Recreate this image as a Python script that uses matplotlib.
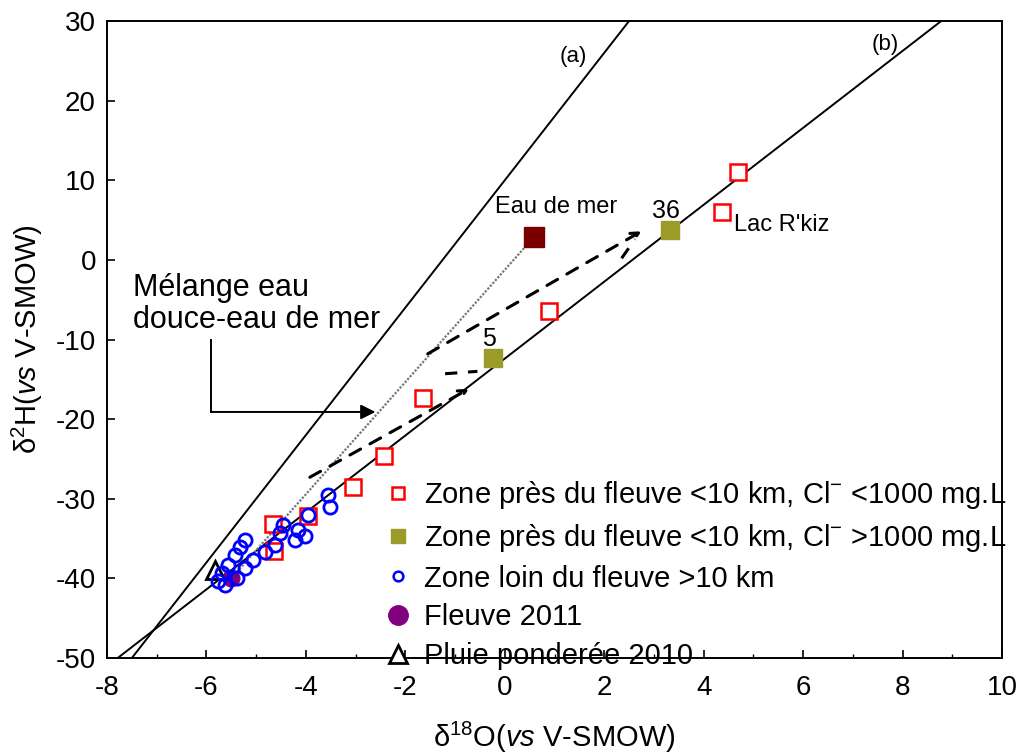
import numpy as np
import matplotlib.pyplot as plt
from matplotlib.lines import Line2D

plt.rcParams['font.family'] = ['Liberation Sans', 'DejaVu Sans']
plt.rcParams['mathtext.fontset'] = 'custom'
plt.rcParams['mathtext.rm'] = 'Liberation Sans'
plt.rcParams['mathtext.it'] = 'Liberation Sans:italic'
plt.rcParams['axes.unicode_minus'] = False

# Zone pres du fleuve, Cl- < 1000
near_lo_x = [4.69, 4.37, 0.89, -1.64, -2.43, -3.05, -3.96, -4.66, -4.64]
near_lo_y = [11.0, 6.0, -6.4, -17.3, -24.6, -28.5, -32.2, -33.2, -36.5]
# Zone pres du fleuve, Cl- > 1000 (samples 36 and 5)
near_hi_x = [3.32, -0.24]
near_hi_y = [3.8, -12.3]
near_hi_lab = ['36', '5']
# Zone loin du fleuve
far_x = [-3.56, -3.51, -3.96, -4.46, -4.16, -4.52, -4.22, -4.02, -4.62, -5.22,
         -5.33, -4.82, -5.43, -5.06, -5.57, -5.22, -5.69, -5.39, -5.77, -5.62]
far_y = [-29.5, -31.0, -32.0, -33.3, -33.9, -34.3, -35.2, -34.7, -35.8, -35.2,
         -36.1, -36.7, -37.1, -37.7, -38.3, -38.7, -39.3, -39.9, -40.3, -40.8]
fleuve_x, fleuve_y = [-5.5], [-40.0]
pluie_x, pluie_y = [-5.83], [-38.9]
mer_x, mer_y = [0.59], [2.9]

# droites (a) et (b): pente, ordonnee
line_a = (8.0, 10.0)
line_b = (4.83, -12.4)

fig = plt.figure(figsize=(10.31, 7.56), dpi=100)
ax = fig.add_axes([107/1031, 1-658/756, (1002-107)/1031, (658-21)/756])

xx = np.array([-9, 11])
ax.plot(xx, line_a[0]*xx + line_a[1], color='black', lw=1.4, zorder=2)
ax.plot(xx, line_b[0]*xx + line_b[1], color='black', lw=1.4, zorder=2)
ax.text(1.37, 25.5, '(a)', fontsize=16, ha='center', va='center')
ax.text(7.65, 27.0, '(b)', fontsize=16, ha='center', va='center')

# melange eau de mer -> eau douce (pointille)
ax.plot([mer_x[0], fleuve_x[0]], [mer_y[0], fleuve_y[0]], color='#777777',
        ls=(0, (1, 0.7)), lw=1.6, zorder=2)

# fleches en tirets
arr = dict(arrowstyle='->', color='black', lw=2.2, ls=(0, (4, 3.5)),
           mutation_scale=14, shrinkA=0, shrinkB=0)
ax.annotate('', xy=(-0.72, -16.2), xytext=(-3.92, -27.3), arrowprops=arr)
ax.annotate('', xy=(2.75, 3.6), xytext=(-1.55, -11.8), arrowprops=arr)
ax.plot([-1.2, -0.55], [-14.3, -14.0], color='black', lw=2.2, ls=(0, (4, 3.5)))
ax.plot([2.35, 2.62], [0.2, 2.6], color='black', lw=2.2, ls=(0, (4, 3.5)))

ax.plot(fleuve_x, fleuve_y, 'o', color='#800080', ms=12, zorder=3)
ax.plot(pluie_x, pluie_y, '^', mfc='white', mec='black', mew=2, ms=13, zorder=3)
ax.plot(near_lo_x, near_lo_y, 's', mfc='white', mec='red', mew=1.8, ms=11, zorder=4)
ax.plot(far_x, far_y, 'o', mfc='none', mec='blue', mew=2, ms=9.5, zorder=5)
ax.plot(near_hi_x, near_hi_y, 's', color='#9b9b2a', ms=13, zorder=4)
ax.plot(mer_x, mer_y, 's', color='#7a0000', ms=15, zorder=4)

ax.text(mer_x[0] + 0.45, mer_y[0] + 3.8, 'Eau de mer', fontsize=17, ha='center', va='center')
for x, y, t in zip(near_hi_x, near_hi_y, near_hi_lab):
    ax.text(x - 0.07, y + 2.4, t, fontsize=18, ha='center', va='center')
ax.text(4.62, 4.4, "Lac R'kiz", fontsize=17, ha='left', va='center')

ax.text(-7.48, -1.7, 'Mélange eau\ndouce-eau de mer', fontsize=22, ha='left',
        va='top', linespacing=1.05)
ax.plot([-5.91, -5.91], [-10.0, -19.1], color='black', lw=1.4)
ax.annotate('', xy=(-2.6, -19.1), xytext=(-5.91, -19.1),
            arrowprops=dict(arrowstyle='-|>', color='black', lw=1.4,
                            mutation_scale=22, shrinkA=0, shrinkB=0))

ax.set_xlim(-8, 10)
ax.set_ylim(-50, 30)
ax.set_xticks(np.arange(-8, 11, 2))
ax.set_xticks(np.arange(-8, 11, 1), minor=True)
ax.set_yticks(np.arange(-50, 31, 10))
ax.tick_params(direction='in', labelsize=20, length=6, width=1.2)
ax.tick_params(axis='x', pad=12)
ax.tick_params(axis='y', pad=8)
ax.tick_params(which='minor', direction='in', length=3, width=1)
for s in ax.spines.values():
    s.set_linewidth(1.4)

ax.set_xlabel(r'δ$^{18}$O($\it{vs}$ V-SMOW)', fontsize=21, labelpad=14)
ax.set_ylabel(r'δ$^{2}$H($\it{vs}$ V-SMOW)', fontsize=21, labelpad=8)

handles = [
    Line2D([], [], ls='', marker='s', mfc='white', mec='red', mew=1.8, ms=9),
    Line2D([], [], ls='', marker='s', color='#9b9b2a', ms=10),
    Line2D([], [], ls='', marker='o', mfc='white', mec='blue', mew=1.8, ms=7),
    Line2D([], [], ls='', marker='o', color='#800080', ms=14),
    Line2D([], [], ls='', marker='^', mfc='white', mec='black', mew=2, ms=13),
]
labels = [
    'Zone près du fleuve <10 km, Cl$^{-}$ <1000 mg.L',
    'Zone près du fleuve <10 km, Cl$^{-}$ >1000 mg.L',
    'Zone loin du fleuve >10 km',
    'Fleuve 2011',
    'Pluie ponderée 2010',
]
fig.legend(handles, labels, loc='upper left', bbox_to_anchor=(385/1031, 1-479/756),
           frameon=False, fontsize=21, borderpad=0, borderaxespad=0,
           handletextpad=0.45, handlelength=0.9, labelspacing=0.37)

fig.savefig('out.png', dpi=100)
